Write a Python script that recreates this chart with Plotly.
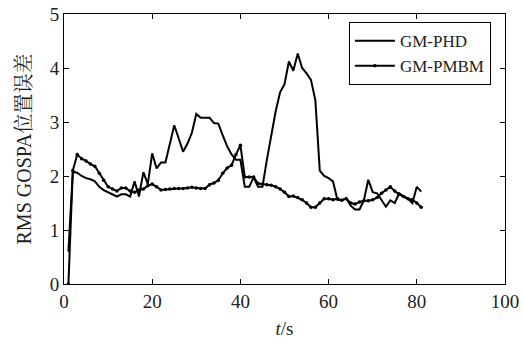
import plotly.graph_objects as go

t = list(range(1, 82))

gm_phd = [0.6, 2.08, 2.06, 2.0, 1.96, 1.94, 1.9, 1.8, 1.74, 1.7,
          1.66, 1.62, 1.66, 1.66, 1.62, 1.9, 1.62, 2.07, 1.85, 2.42,
          2.14, 2.25, 2.25, 2.6, 2.94, 2.7, 2.45, 2.6, 2.8, 3.15,
          3.08, 3.08, 3.08, 2.98, 2.97, 2.75, 2.55, 2.4, 2.3, 2.3,
          1.8, 1.8, 1.98, 1.8, 1.8, 2.3, 2.75, 3.2, 3.55, 3.7,
          4.12, 3.95, 4.27, 4.0, 3.9, 3.78, 3.4, 2.1, 2.0, 1.96,
          1.9, 1.56, 1.55, 1.59, 1.45, 1.38, 1.38, 1.55, 1.93, 1.7,
          1.68, 1.56, 1.43, 1.55, 1.5, 1.68, 1.62, 1.58, 1.5, 1.8,
          1.71]

gm_pmbm = [0.0, 2.1, 2.4, 2.32, 2.28, 2.22, 2.18, 2.05, 1.92, 1.8,
           1.76, 1.72, 1.78, 1.78, 1.72, 1.7, 1.74, 1.76, 1.82, 1.85,
           1.8, 1.74, 1.75, 1.76, 1.77, 1.77, 1.77, 1.78, 1.79, 1.78,
           1.77, 1.77, 1.84, 1.87, 1.92, 2.05, 2.15, 2.2, 2.4, 2.57,
           1.98, 1.98, 1.98, 1.86, 1.85, 1.84, 1.83, 1.8, 1.76, 1.7,
           1.62, 1.63, 1.6, 1.56, 1.5, 1.42, 1.42, 1.5, 1.58, 1.58,
           1.56, 1.58, 1.55, 1.58, 1.5, 1.48, 1.52, 1.54, 1.54, 1.56,
           1.6, 1.68, 1.74, 1.8, 1.72, 1.66, 1.62, 1.58, 1.56, 1.5,
           1.42]

x_ticks = [0, 20, 40, 60, 80, 100]
y_ticks = [0, 1, 2, 3, 4, 5]

serif = "Liberation Serif, Times New Roman, Noto Serif CJK SC, Noto Sans CJK SC, serif"

fig = go.Figure()
fig.add_trace(go.Scatter(x=t, y=gm_phd, mode="lines", name="GM-PHD",
                         line=dict(color="black", width=2)))
fig.add_trace(go.Scatter(x=t, y=gm_pmbm, mode="lines+markers", name="GM-PMBM",
                         line=dict(color="black", width=2),
                         marker=dict(color="black", size=3.5, symbol="circle")))

axis_common = dict(showline=True, linecolor="black", linewidth=1, mirror="ticks",
                   ticks="inside", ticklen=5, tickcolor="black", showgrid=False,
                   zeroline=False, automargin=False,
                   tickfont=dict(family=serif, size=19, color="#222"))

fig.update_xaxes(range=[0, 100], tickvals=x_ticks, ticktext=[str(v) for v in x_ticks],
                 title=dict(text="<i>t</i>/s", font=dict(family=serif, size=19, color="#222"),
                            standoff=10), **axis_common)
fig.update_yaxes(range=[0, 5], tickvals=y_ticks, ticktext=[str(v) for v in y_ticks],
                 title=dict(text="RMS GOSPA位置误差", font=dict(family=serif, size=20, color="#222"),
                            standoff=12), **axis_common)

fig.update_layout(
    width=523, height=343,
    margin=dict(l=64, r=18, t=14, b=59),
    plot_bgcolor="white", paper_bgcolor="white",
    font=dict(family=serif, color="#222"),
    legend=dict(x=0.646, y=0.97, xanchor="left", yanchor="top",
                bordercolor="black", borderwidth=1, bgcolor="white",
                font=dict(family=serif, size=17, color="#222"),
                tracegroupgap=0, itemwidth=40),
    showlegend=True,
)

fig.write_html("out.html")
